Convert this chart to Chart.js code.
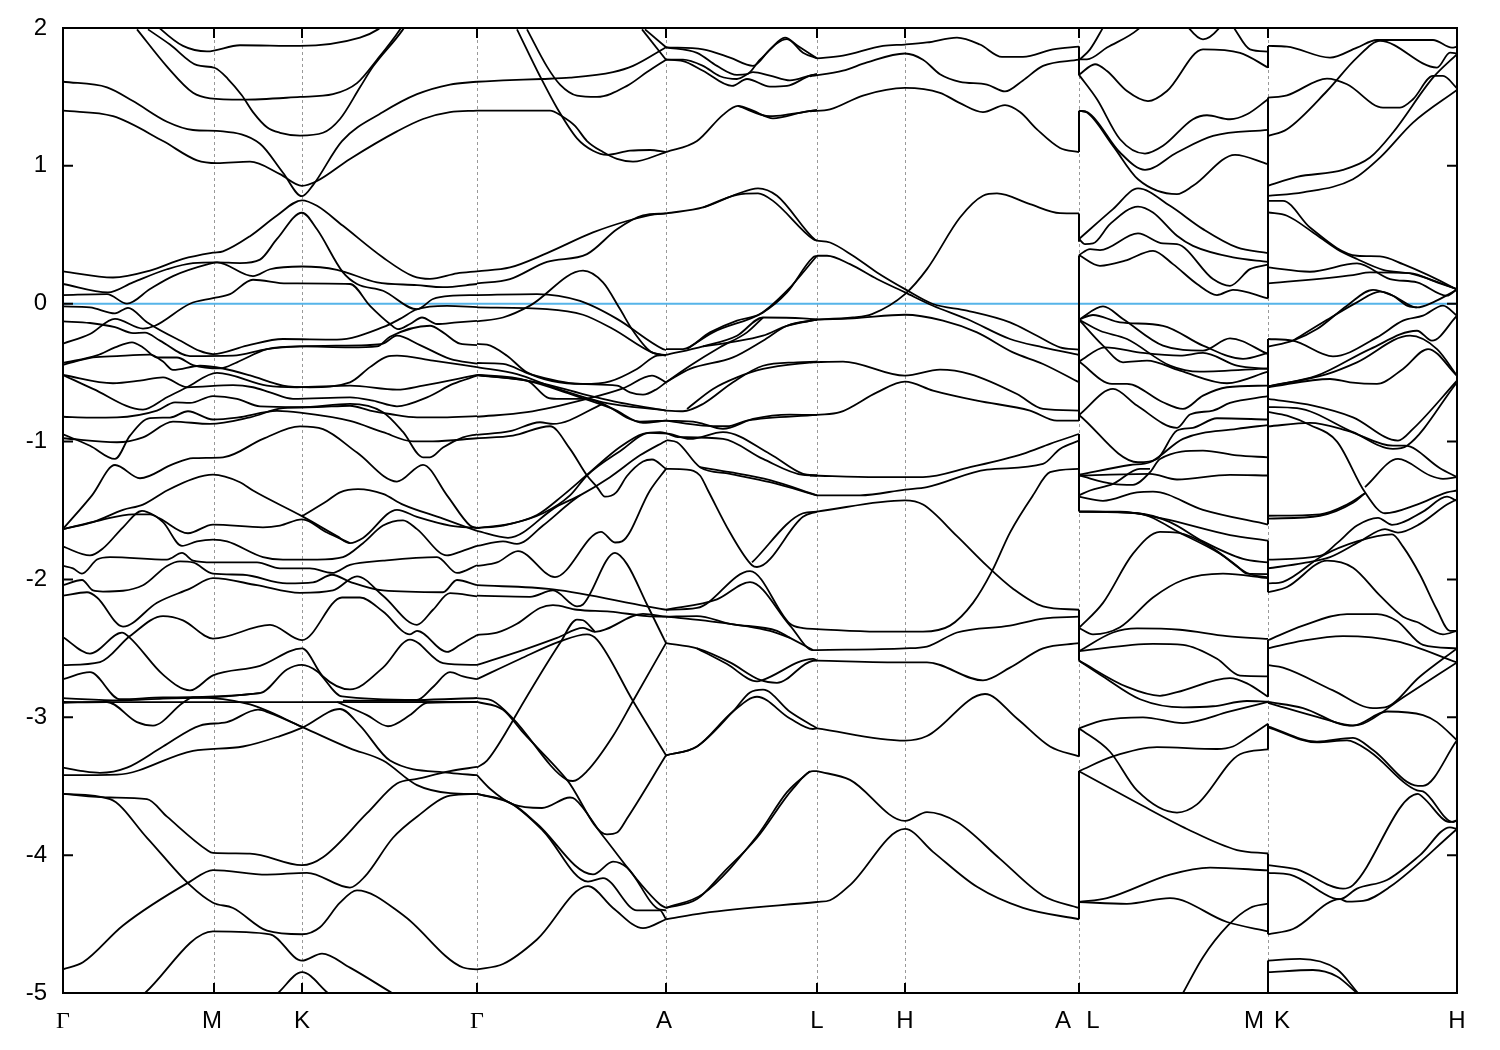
<!DOCTYPE html>
<html>
<head>
<meta charset="utf-8">
<title>Band structure</title>
<script src="https://cdn.jsdelivr.net/npm/chart.js@4/dist/chart.umd.min.js"></script>
<style>
  html, body { margin: 0; padding: 0; background: #fff; }
  canvas { display: block; }
</style>
</head>
<body>
<canvas id="bands" width="1500" height="1050"></canvas>
<script>
// k path: gamma=0 M=151 K=239 gamma=414 A=603 L=754 H=842 A|L=1016 M|K=1205 H=1394
const symPoints = [151, 239, 414, 603, 754, 842, 1016, 1205];
const xLabels = ["Γ", "M", "K", "Γ", "A", "L", "H", "A", "L", "M", "K", "H"];
const xLabelPos = [0, 149, 239, 414, 601, 754, 842, 1000, 1030, 1191, 1219, 1394];
const fermi = [[0, 0], [1394, 0]];
const breakAL = 1016;
const breakMK = 1205;
const jumpsAL = [[1.865, 1.657], [1.4, 1.1], [0.655, 0.45], [0.35, -0.85], [-0.945, -1.508], [-2.22, -2.59], [-3.08, -3.284], [-3.39, -4.465]];
const jumpsMK = [[1.87, 1.71], [1.495, 0.04], [-0.256, -1.6], [-1.72, -2.093], [-2.44, -2.851], [-3.047, -3.233], [-3.988, -4.574], [-4.765, -5]];

// gamma - M - K - gamma
const gmk01 = [[90,2.05],[98,1.99],[120,1.87],[144,1.83],[177,1.875],[237,1.87],[297,1.93],[315,1.99],[325,2.05]];
const gmk02 = [[85,1.99],[107,1.88],[134,1.73],[152,1.71],[165,1.63],[179,1.51],[190,1.39],[204,1.28],[217,1.24],[237,1.22],[260,1.24],[277,1.34],[297,1.57],[310,1.72],[340,1.99],[345,2.05]];
const gmk03 = [[74,1.99],[104,1.72],[130,1.53],[147,1.49],[179,1.48],[237,1.5],[270,1.52],[294,1.6],[314,1.77],[337,1.99],[342,2.05]];
const gmk04 = [[0,1.61],[44,1.57],[70,1.47],[104,1.32],[130,1.26],[160,1.25],[197,1.16],[220,0.95],[239,0.78],[250,0.86],[279,1.18],[320,1.39],[354,1.52],[387,1.59],[414,1.61]];
const gmk05 = [[0,1.4],[50,1.36],[100,1.18],[134,1.04],[154,1.02],[187,1.03],[217,0.94],[239,0.855],[254,0.89],[287,1.05],[334,1.25],[360,1.34],[387,1.39],[414,1.4]];
const gmk06 = [[0,0.235],[50,0.19],[87,0.24],[120,0.325],[150,0.37],[160,0.38],[187,0.49],[214,0.64],[239,0.75],[254,0.71],[280,0.565],[320,0.335],[350,0.2],[367,0.18],[394,0.22],[414,0.235]];
const gmk07 = [[0,0.143],[45,0.082],[70,0.155],[104,0.25],[130,0.295],[154,0.3],[177,0.295],[197,0.32],[214,0.47],[239,0.66],[254,0.54],[280,0.227],[294,0.143],[320,0.094],[354,-0.04],[370,0.034],[390,0.058],[414,0.063]];
const gmk08 = [[0,0.063],[44,0.07],[64,0],[87,0.106],[110,0.2],[147,0.29],[154,0.3],[190,0.2],[207,0.25],[239,0.27],[274,0.246],[314,0.155],[354,0.135],[380,0.12],[414,0.143]];
const gmk09 = [[0,-0.02],[27,-0.027],[52,-0.07],[65,-0.03],[84,-0.135],[114,-0.256],[150,-0.365],[184,-0.304],[220,-0.256],[274,-0.26],[320,-0.17],[337,-0.11],[354,-0.04],[384,-0.015],[414,-0.025]];
const gmk10 = [[0,-0.128],[27,-0.14],[52,-0.17],[70,-0.213],[82,-0.21],[97,-0.268],[127,-0.38],[170,-0.377],[204,-0.33],[237,-0.31],[304,-0.3],[320,-0.29],[334,-0.232],[357,-0.3],[387,-0.4],[414,-0.435]];
const gmk11 = [[0,-0.29],[27,-0.22],[52,-0.11],[80,-0.18],[92,-0.16],[127,0],[150,0.04],[167,0.07],[190,0.174],[224,0.147],[287,0.143],[307,-0.015],[327,-0.147],[335,-0.185],[347,-0.147],[359,-0.1],[374,-0.147],[394,-0.135],[414,-0.125]];
const gmk12 = [[0,-0.43],[34,-0.375],[52,-0.317],[69,-0.28],[80,-0.317],[94,-0.39],[114,-0.39],[130,-0.445],[157,-0.469],[174,-0.425],[204,-0.33],[237,-0.31],[287,-0.317],[314,-0.31],[327,-0.24],[367,-0.16],[380,-0.208],[397,-0.29],[414,-0.3]];
const gmk13 = [[0,-0.444],[30,-0.39],[54,-0.38],[87,-0.37],[100,-0.42],[110,-0.48],[137,-0.45],[160,-0.47],[187,-0.52],[220,-0.594],[247,-0.606],[287,-0.57],[307,-0.46],[324,-0.384],[334,-0.377],[370,-0.413],[414,-0.46]];
const gmk14 = [[0,-0.517],[50,-0.577],[77,-0.558],[100,-0.534],[124,-0.606],[170,-0.59],[190,-0.606],[207,-0.643],[230,-0.69],[287,-0.679],[310,-0.703],[334,-0.744],[364,-0.679],[390,-0.582],[414,-0.522]];
const gmk15 = [[0,-0.517],[30,-0.618],[80,-0.768],[104,-0.679],[124,-0.606],[154,-0.502],[204,-0.594],[234,-0.606],[287,-0.594],[334,-0.623],[360,-0.594],[414,-0.517]];
const gmk16 = [[0,-0.82],[27,-0.826],[54,-0.824],[94,-0.775],[112,-0.715],[127,-0.72],[150,-0.67],[174,-0.69],[197,-0.744],[237,-0.75],[287,-0.727],[320,-0.787],[340,-0.93],[360,-1.114],[367,-1.114],[380,-1.043],[400,-0.97],[414,-0.947]];
const gmk17 = [[0,-0.947],[27,-1.03],[52,-1.126],[67,-0.957],[87,-0.83],[107,-0.826],[125,-0.78],[150,-0.84],[174,-0.826],[214,-0.778],[237,-0.79],[287,-0.85],[320,-0.932],[350,-0.998],[370,-0.998],[414,-0.976]];
const gmk18 = [[0,-0.976],[54,-1.005],[80,-0.969],[110,-0.855],[147,-0.872],[187,-0.824],[220,-0.758],[254,-0.75],[287,-0.74],[307,-0.775],[327,-0.8],[354,-0.824],[380,-0.824],[414,-0.815]];
const gmk19 = [[0,-1.634],[29,-1.39],[52,-1.17],[77,-1.266],[110,-1.164],[130,-1.12],[160,-1.114],[200,-0.98],[237,-0.89],[260,-0.91],[294,-1.08],[334,-1.29],[360,-1.169],[384,-1.39],[407,-1.609],[414,-1.627]];
const gmk20 = [[0,-1.635],[30,-1.584],[60,-1.495],[80,-1.457],[104,-1.355],[130,-1.27],[150,-1.24],[177,-1.295],[190,-1.355],[239,-1.541],[274,-1.686],[287,-1.737],[300,-1.699],[334,-1.495],[354,-1.546],[387,-1.609],[414,-1.627]];
const gmk21 = [[239,-1.541],[264,-1.431],[277,-1.368],[295,-1.345],[320,-1.38],[340,-1.457],[380,-1.559],[414,-1.648]];
const gmk22 = [[0,-1.635],[37,-1.571],[70,-1.528],[87,-1.528],[100,-1.584],[119,-1.757],[134,-1.724],[150,-1.711],[164,-1.724],[200,-1.838],[220,-1.856],[254,-1.856],[280,-1.838],[300,-1.737],[320,-1.609],[340,-1.571],[354,-1.635],[384,-1.826],[397,-1.8],[414,-1.757]];
const gmk23 = [[0,-1.762],[27,-1.826],[40,-1.775],[60,-1.622],[79,-1.503],[97,-1.559],[125,-1.665],[150,-1.602],[200,-1.622],[217,-1.609],[239,-1.564],[264,-1.66],[287,-1.737]];
const gmk24 = [[0,-1.902],[10,-1.92],[19,-1.958],[34,-1.856],[47,-1.838],[104,-1.856],[119,-1.808],[130,-1.864],[150,-1.877],[194,-1.877],[217,-1.92],[247,-1.92],[269,-1.953],[287,-1.894],[320,-1.864],[374,-1.838],[394,-1.953],[414,-1.897]];
const gmk25 = [[0,-2.042],[19,-2.004],[30,-2.08],[40,-2.088],[80,-2.042],[104,-1.902],[117,-1.869],[130,-1.877],[150,-1.958],[180,-1.966],[224,-2.029],[250,-2.022],[269,-1.966],[287,-2.017],[320,-2.08],[380,-2.093],[394,-2.004],[414,-2.042]];
const gmk26 = [[0,-2.118],[24,-2.093],[34,-2.131],[60,-2.342],[94,-2.169],[127,-2.067],[150,-1.991],[194,-2.042],[237,-2.098],[270,-2.08],[294,-1.978],[320,-2.118],[354,-2.329],[370,-2.22],[387,-2.1],[414,-2.123]];
const gmk27 = [[0,-2.419],[27,-2.538],[59,-2.386],[67,-2.424],[100,-2.691],[127,-2.805],[150,-2.696],[197,-2.627],[239,-2.5],[260,-2.704],[287,-2.798],[320,-2.64],[347,-2.436],[380,-2.607],[414,-2.62]];
const gmk28 = [[0,-2.622],[37,-2.6],[67,-2.411],[100,-2.266],[120,-2.297],[150,-2.429],[207,-2.33],[239,-2.441],[279,-2.131],[297,-2.131],[320,-2.233],[347,-2.398],[354,-2.373],[384,-2.526],[397,-2.475],[414,-2.403]];
const gmk29 = [[0,-2.724],[27,-2.673],[57,-2.869],[100,-2.856],[197,-2.825],[224,-2.653],[239,-2.62],[254,-2.666],[279,-2.849],[354,-2.874],[370,-2.78],[387,-2.673],[400,-2.704],[414,-2.724]];
const gmk30 = [[0,-2.861],[57,-2.878],[100,-2.864],[150,-2.856],[197,-2.825]];
const gmk31 = [[0,-2.889],[50,-2.89],[200,-2.89],[414,-2.889]];
const gmk32 = [[280,-2.88],[354,-2.875],[414,-2.86]];
const gmk33 = [[0,-2.895],[44,-2.889],[74,-3.035],[90,-3.06],[120,-2.895],[130,-2.856],[187,-2.907],[240,-3.073],[287,-3.225],[320,-3.314],[354,-3.492],[387,-3.55],[414,-3.556]];
const gmk34 = [[274,-2.889],[304,-2.984],[325,-3.065],[347,-2.984],[364,-2.895],[414,-2.889]];
const gmk35 = [[0,-3.365],[20,-3.391],[37,-3.403],[64,-3.365],[100,-3.212],[137,-3.06],[164,-3.035],[195,-2.945],[207,-2.97],[240,-3.073]];
const gmk36 = [[0,-3.42],[54,-3.416],[130,-3.243],[180,-3.212],[217,-3.136],[240,-3.073],[277,-2.94],[297,-3.06],[327,-3.314],[387,-3.403],[414,-3.42]];
const gmk37 = [[0,-3.556],[47,-3.582],[84,-3.594],[104,-3.721],[144,-3.963],[150,-3.984],[187,-3.989],[239,-4.073],[260,-4.015],[304,-3.696],[334,-3.48],[354,-3.447],[387,-3.391],[414,-3.36]];
const gmk38 = [[0,-3.556],[47,-3.594],[84,-3.874],[127,-4.218],[150,-4.345],[170,-4.383],[204,-4.548],[239,-4.574],[257,-4.523],[277,-4.345],[294,-4.256],[340,-4.434],[400,-4.815],[414,-4.828]];
const gmk39 = [[0,-4.828],[20,-4.777],[60,-4.51],[127,-4.192],[150,-4.108],[204,-4.141],[244,-4.128],[287,-4.235],[302,-4.154],[330,-3.874],[354,-3.721],[387,-3.569],[414,-3.556]];
const gmk40 = [[82,-5],[150,-4.553],[207,-4.574],[239,-4.765],[259,-4.714],[287,-4.816],[329,-5]];
const gmk41 = [[215,-5],[239,-4.849],[265,-5]];

// gamma - A
const ga01 = [[414,1.61],[440,1.62],[479,1.63],[507,1.64],[550,1.68],[570,1.725],[603,1.86]];
const ga02 = [[414,1.4],[487,1.4],[499,1.36],[512,1.29],[524,1.18],[540,1.1],[554,1.05],[570,1.03],[603,1.1]];
const ga03 = [[454,1.99],[477,1.65],[494,1.42],[514,1.2],[530,1.11],[544,1.08],[567,1.11],[587,1.115],[603,1.1]];
const ga04 = [[464,1.99],[484,1.72],[497,1.59],[514,1.51],[534,1.5],[564,1.58],[584,1.68],[603,1.77]];
const ga05 = [[579,1.99],[603,1.77]];
const ga06 = [[582,1.99],[603,1.86]];
const ga07 = [[414,0.235],[447,0.263],[484,0.367],[530,0.517],[564,0.6],[587,0.643],[603,0.655]];
const ga08 = [[414,0.147],[447,0.179],[484,0.304],[524,0.36],[554,0.54],[580,0.64],[603,0.655]];
const ga09 = [[414,0.063],[474,0.07],[517,0.02],[554,-0.11],[600,-0.329],[603,-0.336]];
const ga10 = [[414,-0.027],[484,-0.039],[520,-0.08],[550,-0.184],[590,-0.357],[603,-0.377]];
const ga11 = [[414,-0.128],[440,-0.1],[467,-0.014],[520,0.24],[540,0.155],[557,-0.039],[570,-0.196],[589,-0.353],[603,-0.372]];
const ga12 = [[414,-0.292],[424,-0.297],[444,-0.377],[464,-0.498],[520,-0.582],[547,-0.563],[574,-0.473],[594,-0.377],[603,-0.372]];
const ga13 = [[414,-0.43],[440,-0.437],[467,-0.51],[517,-0.582],[554,-0.594],[567,-0.643],[580,-0.66],[594,-0.618],[603,-0.57]];
const ga14 = [[414,-0.517],[464,-0.558],[484,-0.679],[494,-0.69],[524,-0.69],[540,-0.727],[577,-0.855],[603,-0.848]];
const ga15 = [[414,-0.46],[454,-0.51],[490,-0.606],[540,-0.715],[603,-0.775]];
const ga16 = [[414,-0.517],[474,-0.57],[520,-0.655],[564,-0.727],[603,-0.775]];
const ga17 = [[414,-0.517],[464,-0.558],[507,-0.655],[550,-0.763],[580,-0.865],[603,-0.848]];
const ga18 = [[414,-0.82],[464,-0.787],[524,-0.69],[560,-0.614],[589,-0.522],[603,-0.57]];
const ga19 = [[414,-0.952],[447,-0.925],[477,-0.86],[490,-0.872],[540,-0.727]];
const ga20 = [[414,-0.976],[450,-0.957],[487,-0.889],[507,-1.053],[524,-1.246],[534,-1.33],[542,-1.4],[553,-1.37],[564,-1.25],[580,-1.145],[589,-1.13],[603,-1.198]];
const ga21 = [[414,-1.627],[440,-1.609],[474,-1.533],[500,-1.39],[527,-1.222],[557,-1.04],[580,-0.944],[597,-0.932],[614,-0.968]];
const ga22 = [[414,-1.627],[447,-1.597],[480,-1.52],[507,-1.39],[524,-1.246],[557,-1.07],[587,-0.937],[607,-0.944]];
const ga23 = [[414,-1.648],[445,-1.698],[494,-1.47],[517,-1.39],[547,-1.258],[577,-1.1],[604,-0.99]];
const ga24 = [[414,-1.757],[440,-1.724],[454,-1.742],[480,-1.609],[507,-1.444],[517,-1.39]];
const ga25 = [[414,-1.902],[434,-1.877],[455,-1.795],[492,-1.983],[538,-1.655],[552,-1.732],[559,-1.724],[587,-1.355],[603,-1.198]];
const ga26 = [[414,-2.042],[490,-2.072],[584,-2.195],[603,-2.22]];
const ga27 = [[414,-2.118],[467,-2.126],[490,-2.08],[514,-2.195],[520,-2.182],[552,-1.808],[564,-1.889],[584,-2.182],[603,-2.462]];
const ga28 = [[414,-2.403],[434,-2.386],[454,-2.322],[477,-2.207],[490,-2.187],[514,-2.22],[547,-2.233],[584,-2.266],[603,-2.27]];
const ga29 = [[414,-2.62],[457,-2.52],[494,-2.424],[520,-2.352],[532,-2.38],[580,-2.25],[603,-2.27]];
const ga30 = [[414,-2.724],[457,-2.577],[497,-2.449],[524,-2.398],[534,-2.436],[570,-2.882],[603,-3.276]];
const ga31 = [[414,-3.365],[424,-3.314],[447,-3.06],[452,-2.996],[497,-2.462],[514,-2.291],[520,-2.296],[532,-2.38]];
const ga32 = [[414,-2.861],[430,-2.882],[450,-3.009],[504,-3.454],[510,-3.462],[524,-3.391],[550,-3.136],[570,-2.882],[603,-2.462]];
const ga33 = [[414,-2.889],[440,-2.945],[460,-3.11],[504,-3.454],[544,-3.849],[554,-3.836],[564,-3.734],[603,-3.276]];
const ga34 = [[414,-3.42],[427,-3.518],[450,-3.632],[479,-3.658],[507,-3.582],[512,-3.594],[540,-3.861],[597,-4.358],[603,-4.383]];
const ga35 = [[414,-3.556],[450,-3.632],[474,-3.772],[530,-4.14],[550,-4.047],[564,-4.09],[597,-4.396],[603,-4.4]];
const ga36 = [[414,-3.556],[447,-3.62],[480,-3.823],[525,-4.192],[540,-4.167],[574,-4.4],[597,-4.4],[603,-4.465]];
const ga37 = [[414,-4.828],[440,-4.79],[474,-4.612],[525,-4.225],[550,-4.383],[580,-4.53],[603,-4.465]];

// A - L
const al01 = [[603,1.86],[640,1.845],[667,1.785],[690,1.725],[707,1.845],[722,1.93],[735,1.87],[754,1.78]];
const al02 = [[603,1.86],[634,1.82],[654,1.725],[674,1.66],[684,1.665],[697,1.77],[724,1.92],[740,1.82],[754,1.78]];
const al03 = [[603,1.77],[620,1.77],[640,1.725],[657,1.65],[674,1.63],[690,1.68],[707,1.655],[727,1.62],[747,1.655],[754,1.665]];
const al04 = [[603,1.77],[620,1.76],[640,1.69],[669,1.58],[684,1.63],[707,1.575],[724,1.58],[747,1.655],[754,1.665]];
const al05 = [[603,1.1],[634,1.18],[660,1.37],[675,1.435],[690,1.4],[710,1.345],[740,1.39],[754,1.405]];
const al06 = [[675,1.435],[707,1.36],[727,1.375],[754,1.405]];
const al07 = [[603,0.655],[640,0.698],[674,0.795],[695,0.837],[714,0.783],[752,0.464],[754,0.457]];
const al08 = [[603,-0.329],[620,-0.329],[647,-0.208],[674,-0.123],[697,-0.075],[724,0.094],[754,0.348]];
const al09 = [[624,-0.329],[650,-0.208],[700,-0.063],[724,0.082],[750,0.336],[754,0.348]];
const al10 = [[603,-0.372],[640,-0.309],[674,-0.232],[700,-0.1],[740,-0.106],[754,-0.116]];
const al11 = [[640,-0.309],[667,-0.28],[700,-0.232],[724,-0.16],[754,-0.116]];
const al12 = [[603,-0.775],[620,-0.78],[640,-0.727],[670,-0.57],[700,-0.45],[734,-0.425],[754,-0.42]];
const al13 = [[624,-0.763],[650,-0.618],[674,-0.534],[700,-0.473],[754,-0.42]];
const al14 = [[603,-0.848],[634,-0.86],[660,-0.908],[690,-0.836],[727,-0.804],[754,-0.807]];
const al15 = [[603,-0.848],[640,-0.884],[664,-0.889],[684,-0.848],[754,-0.807]];
const al16 = [[614,-0.968],[660,-0.981],[700,-1.126],[740,-1.242],[754,-1.246]];
const al17 = [[607,-0.944],[627,-0.981],[660,-0.932],[707,-1.09],[740,-1.234],[754,-1.246]];
const al18 = [[604,-0.99],[614,-1.005],[637,-1.186],[667,-1.234],[707,-1.295],[754,-1.39]];
const al19 = [[637,-1.186],[667,-1.222],[707,-1.28],[754,-1.39]];
const al20 = [[603,-1.198],[624,-1.203],[637,-1.246],[645,-1.355],[667,-1.66],[689,-1.897],[694,-1.91],[740,-1.546],[754,-1.508]];
const al21 = [[689,-1.877],[740,-1.52],[754,-1.508]];
const al22 = [[603,-2.22],[634,-2.207],[687,-1.94],[727,-2.322],[740,-2.353],[754,-2.36]];
const al23 = [[603,-2.22],[654,-2.144],[687,-2.02],[727,-2.335],[750,-2.513],[754,-2.513]];
const al24 = [[603,-2.27],[634,-2.266],[667,-2.322],[714,-2.373],[727,-2.424],[750,-2.513]];
const al25 = [[603,-2.27],[640,-2.297],[707,-2.373],[727,-2.424]];
const al26 = [[603,-2.462],[634,-2.5],[667,-2.602],[697,-2.729],[714,-2.75],[750,-2.59],[754,-2.589]];
const al27 = [[634,-2.5],[664,-2.614],[694,-2.74],[700,-2.729],[750,-2.576],[754,-2.589]];
const al28 = [[603,-3.276],[634,-3.212],[670,-2.958],[694,-2.851],[727,-3.009],[750,-3.085],[754,-3.08]];
const al29 = [[603,-3.276],[634,-3.212],[670,-2.958],[687,-2.82],[700,-2.8],[727,-2.96],[754,-3.08]];
const al30 = [[603,-4.383],[634,-4.319],[660,-4.128],[694,-3.874],[730,-3.518],[750,-3.391],[754,-3.391]];
const al31 = [[603,-4.383],[640,-4.281],[694,-3.861],[724,-3.543],[747,-3.391]];
const al32 = [[603,-4.465],[640,-4.42],[754,-4.34]];
const al33 = [[640,0.698],[674,0.79],[695,0.8],[710,0.746],[750,0.469],[754,0.457]];
const al34 = [[603,-0.57],[627,-0.45],[657,-0.316],[684,-0.208],[700,-0.1]];
const al35 = [[603,-0.57],[627,-0.473],[670,-0.389],[700,-0.268],[724,-0.16],[754,-0.116]];

// L - H - A
const lha01 = [[754,1.78],[780,1.8],[820,1.87],[842,1.88],[864,1.895],[894,1.93],[917,1.88],[939,1.79],[960,1.79],[990,1.845],[1016,1.865]];
const lha02 = [[747,1.65],[780,1.69],[804,1.75],[842,1.815],[860,1.77],[877,1.665],[897,1.61],[924,1.59],[942,1.54],[960,1.62],[980,1.725],[1016,1.77]];
const lha03 = [[747,1.395],[767,1.41],[800,1.51],[842,1.565],[877,1.53],[897,1.455],[920,1.39],[942,1.44],[957,1.39],[974,1.265],[997,1.13],[1016,1.1]];
const lha04 = [[754,0.457],[767,0.444],[790,0.348],[814,0.227],[842,0.106],[870,-0.002],[904,-0.05],[947,-0.135],[974,-0.232],[997,-0.316],[1016,-0.333]];
const lha05 = [[754,0.348],[764,0.348],[787,0.287],[814,0.179],[842,0.082],[870,-0.015],[904,-0.111],[947,-0.256],[980,-0.316],[1016,-0.372]];
const lha06 = [[747,-0.116],[790,-0.1],[809,-0.075],[842,0.07],[864,0.251],[897,0.625],[920,0.783],[934,0.8],[967,0.722],[997,0.657],[1016,0.655]];
const lha07 = [[747,-0.116],[790,-0.106],[842,-0.08],[880,-0.123],[914,-0.208],[950,-0.353],[980,-0.437],[1016,-0.57]];
const lha08 = [[747,-0.425],[780,-0.42],[842,-0.522],[877,-0.478],[907,-0.51],[954,-0.655],[980,-0.763],[1016,-0.775]];
const lha09 = [[754,-0.807],[777,-0.787],[814,-0.643],[842,-0.565],[870,-0.63],[914,-0.703],[967,-0.775],[994,-0.848],[1016,-0.848]];
const lha10 = [[747,-1.246],[814,-1.258],[860,-1.258],[907,-1.186],[960,-1.089],[987,-1.017],[1016,-0.945]];
const lha11 = [[754,-1.39],[797,-1.39],[842,-1.348],[864,-1.33],[924,-1.203],[980,-1.162],[997,-1.053],[1016,-0.993]];
const lha12 = [[754,-1.508],[842,-1.426],[860,-1.457],[894,-1.686],[924,-1.902],[950,-2.067],[980,-2.195],[1016,-2.22]];
const lha13 = [[754,-2.36],[814,-2.378],[860,-2.378],[887,-2.335],[910,-2.17],[929,-1.94],[947,-1.66],[970,-1.39],[987,-1.222],[1016,-1.198]];
const lha14 = [[754,-2.513],[842,-2.5],[864,-2.487],[894,-2.385],[947,-2.335],[980,-2.284],[1016,-2.27]];
const lha15 = [[754,-2.589],[842,-2.602],[864,-2.602],[920,-2.732],[947,-2.64],[980,-2.5],[1016,-2.462]];
const lha16 = [[754,-3.08],[842,-3.169],[864,-3.136],[922,-2.831],[954,-3.009],[987,-3.212],[1016,-3.284]];
const lha17 = [[754,-3.391],[787,-3.454],[842,-3.752],[864,-3.688],[894,-3.76],[937,-4.027],[980,-4.294],[1016,-4.383]];
const lha18 = [[754,-4.34],[767,-4.327],[787,-4.217],[842,-3.81],[870,-3.976],[914,-4.23],[960,-4.383],[1016,-4.465]];

// L - M
const lm01 = [[1016,1.773],[1024,1.773],[1044,1.858],[1075,1.99],[1080,2.03]];
const lm02 = [[1017,1.773],[1027,1.845],[1039,1.99],[1042,2.03]];
const lm03 = [[1122,2.05],[1127,1.99],[1140,1.918],[1155,1.99],[1160,2.05]];
const lm04 = [[1167,2.05],[1172,1.99],[1187,1.845],[1205,1.829]];
const lm05 = [[1016,1.66],[1032,1.737],[1044,1.688],[1064,1.543],[1085,1.47],[1104,1.543],[1140,1.845],[1177,1.82],[1205,1.713]];
const lm06 = [[1016,1.66],[1034,1.483],[1057,1.193],[1082,1.089],[1100,1.145],[1130,1.338],[1144,1.367],[1167,1.338],[1184,1.374],[1205,1.483]];
const lm07 = [[1016,1.4],[1025,1.387],[1057,1.097],[1082,0.971],[1114,1.097],[1150,1.217],[1205,1.261]];
const lm08 = [[1016,1.4],[1024,1.387],[1050,1.145],[1075,0.903],[1114,0.795],[1130,0.855],[1172,1.08],[1205,1.012]];
const lm09 = [[1016,0.469],[1050,0.686],[1075,0.836],[1107,0.71],[1140,0.541],[1174,0.408],[1205,0.367]];
const lm10 = [[1016,0.469],[1022,0.432],[1030,0.437],[1047,0.577],[1075,0.705],[1090,0.662],[1114,0.493],[1130,0.42],[1170,0.336],[1205,0.304]];
const lm11 = [[1016,0.353],[1027,0.396],[1037,0.389],[1075,0.51],[1100,0.437],[1114,0.432],[1150,0.179],[1167,0.13],[1187,0.251],[1205,0.283]];
const lm12 = [[1016,0.353],[1037,0.275],[1062,0.312],[1090,0.384],[1110,0.287],[1134,0.143],[1154,0.063],[1170,0.101],[1205,0.039]];
const lm13 = [[1016,-0.116],[1040,-0.02],[1060,-0.111],[1100,-0.304],[1140,-0.34],[1167,-0.251],[1205,-0.365]];
const lm14 = [[1016,-0.116],[1030,-0.082],[1057,-0.135],[1100,-0.16],[1140,-0.304],[1180,-0.4],[1205,-0.357]];
const lm15 = [[1016,-0.116],[1037,-0.196],[1064,-0.256],[1107,-0.449],[1137,-0.493],[1205,-0.469]];
const lm16 = [[1016,-0.116],[1040,-0.304],[1060,-0.425],[1084,-0.413],[1117,-0.486],[1164,-0.577],[1205,-0.493]];
const lm17 = [[1016,-0.42],[1042,-0.316],[1080,-0.357],[1117,-0.377],[1140,-0.357],[1174,-0.449],[1205,-0.473]];
const lm18 = [[1016,-0.42],[1049,-0.582],[1064,-0.582],[1100,-0.715],[1120,-0.763],[1140,-0.667],[1164,-0.606],[1205,-0.594]];
const lm19 = [[1016,-0.807],[1050,-0.618],[1074,-0.739],[1114,-0.9],[1127,-0.804],[1150,-0.775],[1167,-0.72],[1205,-0.671]];
const lm20 = [[1016,-0.807],[1075,-1.15],[1094,-1.126],[1114,-0.92],[1130,-0.9],[1154,-0.831],[1205,-0.84]];
const lm21 = [[1016,-1.24],[1067,-1.17],[1087,-1.15],[1120,-0.98],[1174,-0.908],[1205,-0.88]];
const lm22 = [[1016,-1.246],[1050,-1.307],[1070,-1.314],[1087,-1.222],[1097,-1.126],[1140,-1.065],[1174,-1.1],[1205,-1.114]];
const lm23 = [[1016,-1.246],[1087,-1.234],[1114,-1.275],[1167,-1.242],[1205,-1.246]];
const lm24 = [[1016,-1.39],[1027,-1.355],[1050,-1.307],[1077,-1.198],[1087,-1.198]];
const lm25 = [[1016,-1.4],[1040,-1.43],[1074,-1.368],[1090,-1.363],[1140,-1.495],[1205,-1.602]];
const lm26 = [[1016,-1.508],[1057,-1.508],[1100,-1.559],[1167,-1.678],[1205,-1.719]];
const lm27 = [[1016,-1.508],[1074,-1.52],[1107,-1.584],[1140,-1.724],[1180,-1.851],[1205,-1.877]];
const lm28 = [[1016,-1.508],[1074,-1.52],[1120,-1.673],[1157,-1.813],[1184,-1.953],[1205,-1.986]];
const lm29 = [[1016,-2.352],[1040,-2.17],[1070,-1.813],[1097,-1.655],[1114,-1.66],[1147,-1.762],[1174,-1.902],[1184,-1.958],[1205,-1.961]];
const lm30 = [[1016,-2.352],[1030,-2.398],[1057,-2.347],[1090,-2.131],[1120,-2.004],[1160,-1.958],[1205,-1.991]];
const lm31 = [[1016,-2.52],[1050,-2.385],[1074,-2.355],[1117,-2.365],[1164,-2.411],[1205,-2.431]];
const lm32 = [[1016,-2.52],[1090,-2.467],[1120,-2.475],[1154,-2.576],[1177,-2.698],[1205,-2.703]];
const lm33 = [[1016,-2.589],[1064,-2.78],[1097,-2.844],[1114,-2.818],[1167,-2.716],[1184,-2.754],[1205,-2.851]];
const lm34 = [[1016,-2.589],[1040,-2.704],[1077,-2.869],[1120,-2.928],[1150,-2.92],[1184,-2.882],[1205,-2.887]];
const lm35 = [[1016,-3.08],[1040,-3.022],[1080,-3.0],[1120,-3.042],[1167,-2.958],[1205,-2.889]];
const lm36 = [[1016,-3.08],[1047,-3.25],[1074,-3.53],[1114,-3.691],[1134,-3.632],[1177,-3.268],[1205,-3.233]];
const lm37 = [[1016,-3.391],[1050,-3.284],[1094,-3.217],[1154,-3.23],[1170,-3.212],[1184,-3.149],[1205,-3.047]];
const lm38 = [[1016,-3.391],[1074,-3.62],[1124,-3.81],[1174,-3.963],[1205,-3.988]];
const lm39 = [[1016,-4.34],[1044,-4.312],[1107,-4.141],[1147,-4.09],[1205,-4.111]];
const lm40 = [[1016,-4.34],[1064,-4.353],[1107,-4.312],[1164,-4.485],[1205,-4.553]];
const lm41 = [[1120,-5],[1140,-4.74],[1165,-4.51],[1187,-4.383],[1205,-4.352]];

// K - H
const kh01 = [[1205,1.87],[1224,1.865],[1267,1.785],[1294,1.858],[1314,1.913],[1370,1.913],[1389,1.857],[1394,1.865]];
const kh02 = [[1205,1.495],[1224,1.512],[1264,1.633],[1284,1.592],[1320,1.423],[1337,1.423],[1350,1.483],[1370,1.652],[1380,1.652],[1394,1.563]];
const kh03 = [[1205,1.217],[1224,1.266],[1264,1.543],[1294,1.785],[1317,1.906],[1374,1.713],[1387,1.821],[1394,1.816]];
const kh04 = [[1205,0.855],[1234,0.92],[1280,0.971],[1307,1.06],[1330,1.242],[1370,1.64],[1394,1.81]];
const kh05 = [[1205,0.783],[1240,0.807],[1290,0.903],[1317,1.06],[1350,1.314],[1394,1.551]];
const kh06 = [[1205,0.746],[1220,0.746],[1247,0.553],[1294,0.348],[1317,0.343],[1340,0.287],[1390,0.118],[1394,0.101]];
const kh07 = [[1205,0.662],[1224,0.638],[1250,0.517],[1274,0.396],[1294,0.324],[1320,0.246],[1350,0.215],[1394,0.106]];
const kh08 = [[1205,0.263],[1247,0.232],[1294,0.292],[1327,0.179],[1354,0.155],[1384,0.058],[1394,0.106]];
const kh09 = [[1205,0.147],[1290,0.208],[1307,0.227],[1347,0.222],[1374,0.155],[1394,0.106]];
const kh10 = [[1205,-0.312],[1230,-0.268],[1254,-0.184],[1284,-0.014],[1310,0.101],[1330,0.058],[1354,-0.027],[1370,0.01],[1394,0.101]];
const kh11 = [[1230,-0.268],[1260,-0.135],[1294,0.01],[1317,0.087],[1330,0.058],[1344,-0.014],[1354,-0.027]];
const kh12 = [[1205,-0.256],[1230,-0.268],[1270,-0.382],[1314,-0.244],[1340,-0.123],[1360,-0.087],[1380,-0.014],[1394,-0.087]];
const kh13 = [[1205,-0.6],[1254,-0.522],[1307,-0.329],[1354,-0.196],[1369,-0.268],[1394,-0.087]];
const kh14 = [[1205,-0.606],[1267,-0.546],[1287,-0.57],[1314,-0.582],[1340,-0.473],[1365,-0.329],[1394,-0.522]];
const kh15 = [[1205,-0.6],[1264,-0.51],[1294,-0.425],[1347,-0.232],[1374,-0.329],[1394,-0.522]];
const kh16 = [[1205,-0.691],[1250,-0.739],[1290,-0.824],[1335,-0.993],[1350,-0.908],[1394,-0.558]];
const kh17 = [[1205,-0.75],[1234,-0.758],[1290,-0.932],[1330,-1.053],[1344,-1.03],[1394,-0.57]];
const kh18 = [[1205,-0.785],[1224,-0.812],[1247,-0.88],[1274,-1.0],[1302,-1.368],[1322,-1.52],[1354,-1.457],[1384,-1.368],[1394,-1.355]];
const kh19 = [[1205,-0.89],[1247,-0.865],[1284,-0.92],[1330,-1.03],[1342,-1.03],[1377,-1.193],[1394,-1.258]];
const kh20 = [[1302,-1.33],[1335,-1.126],[1367,-1.246],[1380,-1.27],[1394,-1.258]];
const kh21 = [[1205,-1.538],[1257,-1.528],[1284,-1.457],[1302,-1.375]];
const kh22 = [[1205,-1.559],[1257,-1.538],[1290,-1.444],[1302,-1.375]];
const kh23 = [[1205,-1.856],[1257,-1.83],[1274,-1.737],[1294,-1.609],[1315,-1.553],[1329,-1.604],[1360,-1.508],[1384,-1.4],[1394,-1.431]];
const kh24 = [[1205,-1.92],[1240,-1.882],[1267,-1.838],[1297,-1.724],[1322,-1.635],[1335,-1.66],[1357,-1.597],[1384,-1.457],[1394,-1.419]];
const kh25 = [[1205,-2.029],[1220,-2.017],[1260,-1.826],[1294,-1.724],[1329,-1.673],[1340,-1.762],[1357,-1.966],[1374,-2.22],[1387,-2.373],[1394,-2.373]];
const kh26 = [[1205,-2.093],[1224,-2.055],[1264,-1.864],[1290,-1.915],[1317,-2.118],[1340,-2.271],[1354,-2.309],[1380,-2.398],[1394,-2.373]];
const kh27 = [[1205,-2.441],[1240,-2.335],[1284,-2.251],[1314,-2.251],[1334,-2.301],[1360,-2.475],[1394,-2.5]];
const kh28 = [[1205,-2.5],[1240,-2.444],[1280,-2.411],[1334,-2.449],[1394,-2.602]];
const kh29 = [[1205,-2.622],[1220,-2.64],[1270,-2.805],[1310,-2.933],[1322,-2.928],[1357,-2.704],[1394,-2.5]];
const kh30 = [[1205,-2.889],[1240,-2.933],[1287,-3.06],[1300,-3.047],[1340,-2.856],[1394,-2.602]];
const kh31 = [[1205,-2.895],[1260,-3.009],[1290,-3.06],[1324,-2.958],[1360,-2.984],[1374,-3.035],[1394,-3.167]];
const kh32 = [[1205,-3.065],[1254,-3.177],[1290,-3.149],[1310,-3.238],[1355,-3.497],[1360,-3.497],[1394,-3.167]];
const kh33 = [[1205,-3.073],[1254,-3.182],[1284,-3.167],[1307,-3.25],[1354,-3.53],[1360,-3.538],[1390,-3.76],[1394,-3.747]];
const kh34 = [[1205,-4.073],[1234,-4.103],[1280,-4.243],[1290,-4.217],[1355,-3.556],[1360,-3.581],[1387,-3.76],[1394,-3.747]];
const kh35 = [[1205,-4.128],[1227,-4.141],[1270,-4.312],[1277,-4.319],[1294,-4.243],[1324,-4.18],[1357,-4.0],[1387,-3.798],[1394,-3.81]];
const kh36 = [[1205,-4.574],[1230,-4.536],[1277,-4.319],[1284,-4.337],[1300,-4.332],[1327,-4.23],[1394,-3.81]];
const kh37 = [[1205,-4.765],[1237,-4.752],[1274,-4.828],[1295,-5]];
const kh38 = [[1205,-4.849],[1250,-4.833],[1274,-4.88],[1294,-5]];

const bandLines = [
  gmk01,gmk02,gmk03,gmk04,gmk05,gmk06,gmk07,gmk08,gmk09,gmk10,gmk11,gmk12,gmk13,gmk14,gmk15,gmk16,gmk17,gmk18,gmk19,gmk20,gmk21,
  gmk22,gmk23,gmk24,gmk25,gmk26,gmk27,gmk28,gmk29,gmk30,gmk31,gmk32,gmk33,gmk34,gmk35,gmk36,gmk37,gmk38,gmk39,gmk40,gmk41,
  ga01,ga02,ga03,ga04,ga05,ga06,ga07,ga08,ga09,ga10,ga11,ga12,ga13,ga14,ga15,ga16,ga17,ga18,ga19,ga20,ga21,ga22,ga23,ga24,ga25,
  ga26,ga27,ga28,ga29,ga30,ga31,ga32,ga33,ga34,ga35,ga36,ga37,
  al01,al02,al03,al04,al05,al06,al07,al08,al09,al10,al11,al12,al13,al14,al15,al16,al17,al18,al19,al20,al21,al22,al23,al24,al25,
  al26,al27,al28,al29,al30,al31,al32,al33,al34,al35,
  lha01,lha02,lha03,lha04,lha05,lha06,lha07,lha08,lha09,lha10,lha11,lha12,lha13,lha14,lha15,lha16,lha17,lha18,
  lm01,lm02,lm03,lm04,lm05,lm06,lm07,lm08,lm09,lm10,lm11,lm12,lm13,lm14,lm15,lm16,lm17,lm18,lm19,lm20,lm21,lm22,lm23,lm24,lm25,
  lm26,lm27,lm28,lm29,lm30,lm31,lm32,lm33,lm34,lm35,lm36,lm37,lm38,lm39,lm40,lm41,
  kh01,kh02,kh03,kh04,kh05,kh06,kh07,kh08,kh09,kh10,kh11,kh12,kh13,kh14,kh15,kh16,kh17,kh18,kh19,kh20,kh21,kh22,kh23,kh24,kh25,
  kh26,kh27,kh28,kh29,kh30,kh31,kh32,kh33,kh34,kh35,kh36,kh37,kh38
];

const toPoints = (line) => line.map((p) => ({ x: p[0], y: p[1] }));

const datasets = bandLines.map((line) => ({
  data: toPoints(line),
  borderColor: "#000",
  borderWidth: 1.8,
  cubicInterpolationMode: "monotone"
}));
jumpsAL.forEach((j) => datasets.push({ data: toPoints([[breakAL, j[0]], [breakAL, j[1]]]), borderColor: "#000", borderWidth: 2 }));
jumpsMK.forEach((j) => datasets.push({ data: toPoints([[breakMK, j[0]], [breakMK, j[1]]]), borderColor: "#000", borderWidth: 2 }));
datasets.push({ data: toPoints(fermi), borderColor: "#56b4e9", borderWidth: 2 });

// frame, inward tick marks and dotted symmetry lines, gnuplot style
const framePlugin = {
  id: "frame",
  beforeDatasetsDraw(chart) {
    const { ctx, chartArea: a, scales } = chart;
    ctx.save();
    ctx.strokeStyle = "#999";
    ctx.lineWidth = 1;
    ctx.setLineDash([3, 3]);
    symPoints.forEach((k) => {
      const x = Math.round(scales.x.getPixelForValue(k)) + 0.5;
      ctx.beginPath();
      ctx.moveTo(x, a.top);
      ctx.lineTo(x, a.bottom);
      ctx.stroke();
    });
    ctx.restore();
  },
  afterDatasetsDraw(chart) {
    const { ctx, chartArea: a, scales } = chart;
    ctx.save();
    ctx.strokeStyle = "#000";
    ctx.lineWidth = 2;
    symPoints.forEach((k) => {
      const x = scales.x.getPixelForValue(k);
      ctx.beginPath();
      ctx.moveTo(x, a.top);
      ctx.lineTo(x, a.top + 10);
      ctx.moveTo(x, a.bottom);
      ctx.lineTo(x, a.bottom - 10);
      ctx.stroke();
    });
    scales.y.ticks.forEach((t) => {
      const y = scales.y.getPixelForValue(t.value);
      ctx.beginPath();
      ctx.moveTo(a.left, y);
      ctx.lineTo(a.left + 10, y);
      ctx.moveTo(a.right, y);
      ctx.lineTo(a.right - 10, y);
      ctx.stroke();
    });
    ctx.strokeRect(a.left, a.top, a.right - a.left, a.bottom - a.top);
    ctx.restore();
  }
};

new Chart(document.getElementById("bands"), {
  type: "scatter",
  data: { datasets: datasets },
  plugins: [framePlugin],
  options: {
    responsive: false,
    devicePixelRatio: 1,
    animation: false,
    showLine: true,
    layout: { padding: { top: 28, right: 43, left: 0, bottom: 0 } },
    elements: { point: { radius: 0 } },
    plugins: { legend: { display: false }, tooltip: { enabled: false } },
    scales: {
      x: {
        type: "linear",
        min: 0,
        max: 1394,
        grid: { display: false },
        border: { display: false },
        afterFit: (scale) => { scale.height = 57; },
        afterBuildTicks: (scale) => { scale.ticks = xLabelPos.map((v) => ({ value: v })); },
        ticks: {
          autoSkip: false,
          maxRotation: 0,
          padding: 6,
          color: "#000",
          font: (ctx) => ({
            family: ctx.index === 0 || ctx.index === 3 ? "'Liberation Serif'" : "'Liberation Sans'",
            size: 24
          }),
          callback: (value, index) => xLabels[index]
        }
      },
      y: {
        min: -5,
        max: 2,
        grid: { display: false },
        border: { display: false },
        afterFit: (scale) => { scale.width = 63; },
        ticks: {
          stepSize: 1,
          padding: 8,
          color: "#000",
          font: { family: "'Liberation Sans'", size: 24 }
        }
      }
    }
  }
});
</script>
</body>
</html>
